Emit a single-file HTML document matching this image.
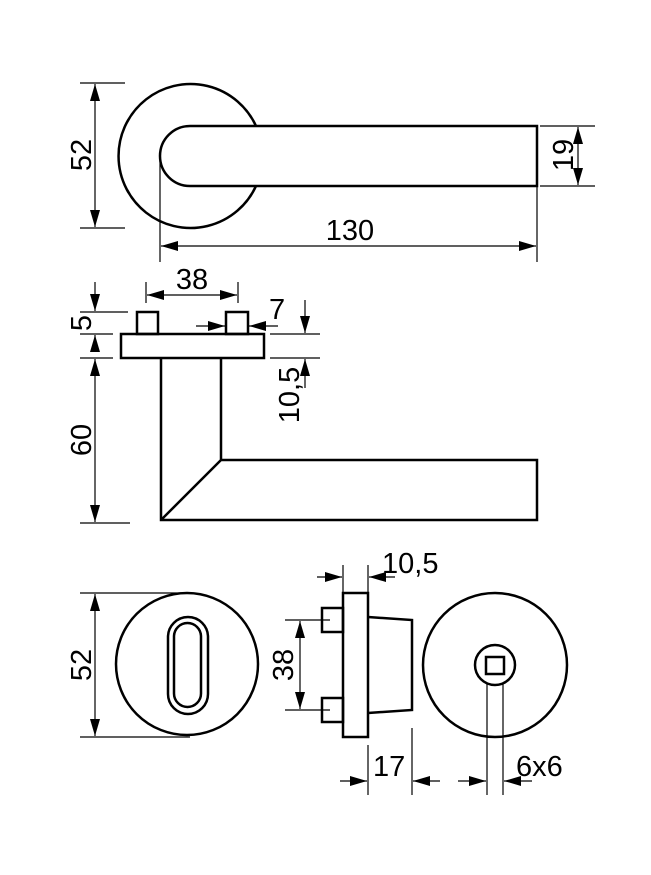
<!DOCTYPE html>
<html><head><meta charset="utf-8"><style>
html,body{margin:0;padding:0;background:#fff}
svg{display:block}
text{font-family:"Liberation Sans",Arial,sans-serif;font-size:29px;fill:#000}
</style></head><body>
<svg width="651" height="875" viewBox="0 0 651 875" xmlns="http://www.w3.org/2000/svg">
<defs>
<marker id="a" viewBox="0 0 17 10" refX="17" refY="5" markerWidth="17" markerHeight="10" markerUnits="userSpaceOnUse" orient="auto"><path d="M0,0L17,5L0,10z" fill="#000"/></marker>
</defs>
<g fill="none" stroke="#000" stroke-width="2.5">
<!-- top view -->
<path d="M256,126 A72,72 0 1 0 256,186"/>
<path d="M537,126 H190 A30,30 0 0 0 190,186 H537 Z" fill="#fff"/>
<!-- side view -->
<rect x="121" y="334" width="143" height="24"/>
<rect x="137" y="312" width="21" height="22"/>
<rect x="226" y="312" width="22" height="22"/>
<path d="M161,358 V520 H537 V460 H221 V358 M221,460 L161,520"/>
<!-- bottom left -->
<circle cx="187" cy="664" r="71"/>
<rect x="168" y="617" width="40" height="97" rx="20"/>
<rect x="174" y="623" width="27" height="84" rx="13.5"/>
<!-- bottom middle -->
<rect x="343" y="593" width="25" height="144"/>
<rect x="322" y="608" width="21" height="24"/>
<rect x="322" y="698" width="21" height="24"/>
<path d="M368,617 L412,620 V710 L368,713"/>
<!-- bottom right -->
<circle cx="495" cy="665" r="72"/>
<circle cx="495" cy="665" r="20"/>
<rect x="486" y="657" width="18" height="17"/>
</g>
<g fill="none" stroke="#000" stroke-width="1.2">
<path d="M80,83H125 M80,228H125 M540,126H595 M540,186H595 M160,155V262 M537,186V262"/>
<path d="M95,155V84" marker-end="url(#a)"/><path d="M95,155V227" marker-end="url(#a)"/>
<path d="M578,156V127" marker-end="url(#a)"/><path d="M578,156V185" marker-end="url(#a)"/>
<path d="M350,246H161" marker-end="url(#a)"/><path d="M350,246H536" marker-end="url(#a)"/>
<path d="M146,282V303 M238,282V303 M80,312H128 M80,334H113 M80,358H113 M80,523H130 M270,334H320 M270,358H320"/>
<path d="M192,295H147" marker-end="url(#a)"/><path d="M192,295H237" marker-end="url(#a)"/>
<path d="M95,282V311" marker-end="url(#a)"/><path d="M95,352V335" marker-end="url(#a)"/>
<path d="M95,440V359" marker-end="url(#a)"/><path d="M95,440V522" marker-end="url(#a)"/>
<path d="M196,326H225" marker-end="url(#a)"/><path d="M278,326H249" marker-end="url(#a)"/>
<path d="M305,300V333" marker-end="url(#a)"/><path d="M305,388V359" marker-end="url(#a)"/>
<path d="M80,593H190 M80,737H190 M285,620H330 M285,710H330 M343,565V593 M368,565V593 M368,745V795 M412,728V795 M487,684V795 M503,684V795"/>
<path d="M95,664V594" marker-end="url(#a)"/><path d="M95,664V736" marker-end="url(#a)"/>
<path d="M300,665V621" marker-end="url(#a)"/><path d="M300,665V709" marker-end="url(#a)"/>
<path d="M317,577H342" marker-end="url(#a)"/><path d="M395,577H369" marker-end="url(#a)"/>
<path d="M340,781H367" marker-end="url(#a)"/><path d="M440,781H413" marker-end="url(#a)"/>
<path d="M458,781H486" marker-end="url(#a)"/><path d="M532,781H504" marker-end="url(#a)"/>
</g>
<text x="350" y="240" text-anchor="middle">130</text>
<text transform="translate(91,155) rotate(-90)" text-anchor="middle">52</text>
<text transform="translate(573,155) rotate(-90)" text-anchor="middle">19</text>
<text x="192" y="289" text-anchor="middle">38</text>
<text transform="translate(91,323) rotate(-90)" text-anchor="middle">5</text>
<text transform="translate(91,440) rotate(-90)" text-anchor="middle">60</text>
<text x="269" y="319">7</text>
<text transform="translate(299,395) rotate(-90)" text-anchor="middle">10,5</text>
<text transform="translate(91,665) rotate(-90)" text-anchor="middle">52</text>
<text transform="translate(293,665) rotate(-90)" text-anchor="middle">38</text>
<text x="382" y="573">10,5</text>
<text x="373" y="776">17</text>
<text x="516" y="776">6x6</text>
</svg>
</body></html>
